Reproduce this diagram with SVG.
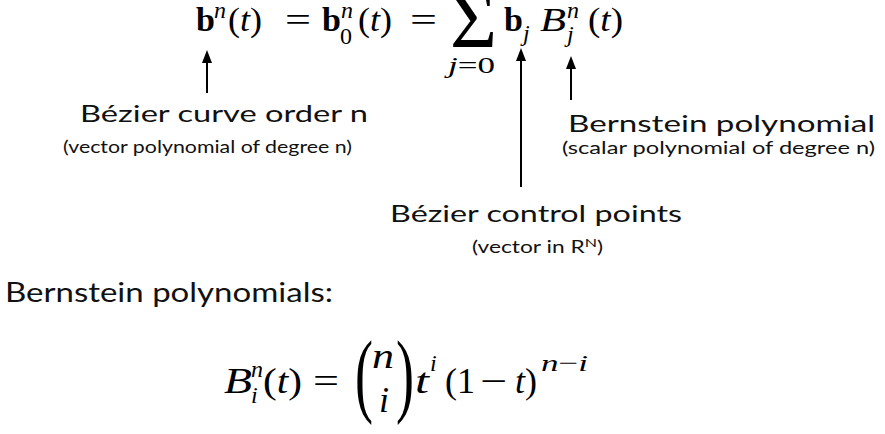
<svg xmlns="http://www.w3.org/2000/svg" width="885" height="434" viewBox="0 0 885 434">
<style>
.m{font-family:"Liberation Serif","Times New Roman",serif;fill:#000}
.it{font-style:italic}
.bf{font-weight:bold}
.lab{font-family:Lato,"Noto Sans",sans-serif;fill:#111}
.conn{stroke:#000;stroke-width:2;fill:none}
</style>
<defs>
<marker id="ah" markerUnits="userSpaceOnUse" markerWidth="14" markerHeight="12" viewBox="0 -6 14 12" refX="7" refY="0" orient="auto">
<path d="M0,-5 L13,0 L0,5 z" fill="#000"/>
</marker>
</defs>
<rect width="885" height="434" fill="#fff"/>
<g id="formula-top" class="m">
<text x="196" y="31" font-size="34" class="bf">b</text>
<text x="214" y="18" font-size="24" class="it">n</text>
<text x="228" y="31" font-size="34" textLength="34" lengthAdjust="spacingAndGlyphs">(<tspan class="it">t</tspan>)</text>
<text x="285" y="31" font-size="34" textLength="26" lengthAdjust="spacingAndGlyphs">=</text>
<text x="322" y="31" font-size="34" class="bf">b</text>
<text x="341" y="18" font-size="24" class="it">n</text>
<text x="340" y="44" font-size="24">0</text>
<text x="358" y="31" font-size="34" textLength="34" lengthAdjust="spacingAndGlyphs">(<tspan class="it">t</tspan>)</text>
<text x="410" y="31" font-size="34" textLength="27" lengthAdjust="spacingAndGlyphs">=</text>
<text x="450" y="47" font-size="83" textLength="47" lengthAdjust="spacingAndGlyphs">Σ</text>
<text x="448" y="73" font-size="24" textLength="47" lengthAdjust="spacingAndGlyphs"><tspan class="it">j</tspan>=0</text>
<text x="504" y="31" font-size="34" class="bf">b</text>
<text x="523" y="41" font-size="24" class="it">j</text>
<text x="540" y="31" font-size="34" class="it" textLength="26" lengthAdjust="spacingAndGlyphs">B</text>
<text x="567" y="18" font-size="24" class="it">n</text>
<text x="567" y="42" font-size="24" class="it">j</text>
<text x="588" y="31" font-size="34" textLength="35" lengthAdjust="spacingAndGlyphs">(<tspan class="it">t</tspan>)</text>
</g>
<g id="label-order" class="lab">
<text x="80" y="122" font-size="24" textLength="288" lengthAdjust="spacingAndGlyphs">Bézier curve order n</text>
<text x="63" y="153" font-size="17" textLength="289" lengthAdjust="spacingAndGlyphs">(vector polynomial of degree n)</text>
</g>
<g id="label-bernstein" class="lab">
<text x="568" y="132" font-size="24" textLength="307" lengthAdjust="spacingAndGlyphs">Bernstein polynomial</text>
<text x="562" y="154" font-size="17" textLength="313" lengthAdjust="spacingAndGlyphs">(scalar polynomial of degree n)</text>
</g>
<g id="label-control" class="lab">
<text x="390" y="222" font-size="24" textLength="292" lengthAdjust="spacingAndGlyphs">Bézier control points</text>
<text x="472" y="253" font-size="17" textLength="131" lengthAdjust="spacingAndGlyphs">(vector in R<tspan font-size="12" dy="-6">N</tspan><tspan dy="6">)</tspan></text>
</g>
<g id="heading-bernstein" class="lab">
<text x="5" y="302" font-size="26" textLength="328" lengthAdjust="spacingAndGlyphs">Bernstein polynomials:</text>
</g>
<g id="formula-bottom" class="m">
<text x="224" y="393" font-size="36" class="it" textLength="28" lengthAdjust="spacingAndGlyphs">B</text>
<text x="251" y="377" font-size="24" class="it">n</text>
<text x="251" y="403" font-size="24" class="it">i</text>
<text x="263" y="393" font-size="36" textLength="39" lengthAdjust="spacingAndGlyphs">(<tspan class="it">t</tspan>)</text>
<text x="313" y="393" font-size="36" textLength="26" lengthAdjust="spacingAndGlyphs">=</text>
<text x="355" y="405" font-size="94" textLength="18" lengthAdjust="spacingAndGlyphs">(</text>
<text x="372" y="368" font-size="36" class="it" textLength="22" lengthAdjust="spacingAndGlyphs">n</text>
<text x="379" y="412" font-size="36" class="it">i</text>
<text x="396" y="405" font-size="94" textLength="18" lengthAdjust="spacingAndGlyphs">)</text>
<text x="415" y="393" font-size="36" class="it" textLength="14" lengthAdjust="spacingAndGlyphs">t</text>
<text x="430" y="371" font-size="24" class="it">i</text>
<text x="445" y="393" font-size="36">(1</text>
<text x="480" y="393" font-size="36" textLength="27" lengthAdjust="spacingAndGlyphs">−</text>
<text x="515" y="393" font-size="36"><tspan class="it">t</tspan>)</text>
<text x="541" y="371" font-size="24" textLength="47" lengthAdjust="spacingAndGlyphs"><tspan class="it">n</tspan>−<tspan class="it">i</tspan></text>
</g>
<g id="connectors">
<line class="conn" x1="207" y1="93" x2="207" y2="56" marker-end="url(#ah)"/>
<line class="conn" x1="521" y1="187" x2="521" y2="54" marker-end="url(#ah)"/>
<line class="conn" x1="571" y1="100" x2="571" y2="62" marker-end="url(#ah)"/>
</g>
</svg>
